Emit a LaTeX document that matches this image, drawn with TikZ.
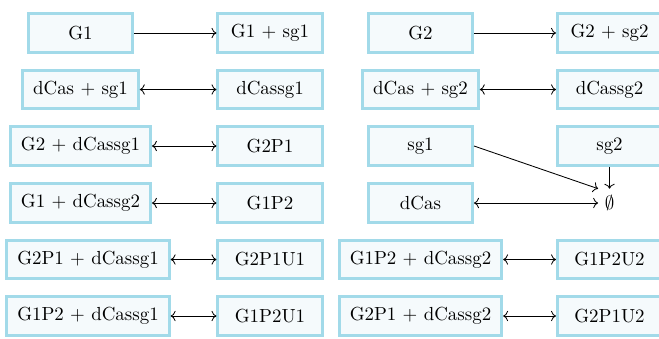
\documentclass[tikz,border=0pt]{standalone}
\usetikzlibrary{arrows.meta}
\definecolor{boxline}{RGB}{162,218,233}
\definecolor{boxfill}{RGB}{245,250,252}
\tikzset{
  species/.style={draw=boxline, fill=boxfill, line width=1.6pt,
    minimum width=55pt, minimum height=20.4pt, inner xsep=5.5pt},
  react/.style={->, line width=0.45pt},
  rev/.style={<->, line width=0.45pt}
}
\begin{document}
\begin{tikzpicture}[x=0.5285pt, y=-0.5285pt]
\useasboundingbox (0,0) rectangle (659,338);
% left block
\node[species] (g1)      at (80.5,33)   {G1};
\node[species] (g1sg1)   at (270,33)    {G1 + sg1};
\node[species] (dcsg1)   at (80.5,89.5) {dCas + sg1};
\node[species] (dcassg1) at (270,89.5)  {dCassg1};
\node[species] (g2dc1)   at (80.5,146)  {G2 + dCassg1};
\node[species] (g2p1)    at (270,146)   {G2P1};
\node[species] (g1dc2)   at (80.5,203)  {G1 + dCassg2};
\node[species] (g1p2)    at (270,203)   {G1P2};
\node[species] (g2p1dc1) at (88,259.5)  {G2P1 + dCassg1};
\node[species] (g2p1u1)  at (270,259.5) {G2P1U1};
\node[species] (g1p2dc1) at (88,316)    {G1P2 + dCassg1};
\node[species] (g1p2u1)  at (270,316)   {G1P2U1};
% right block
\node[species] (g2)      at (420.5,33)   {G2};
\node[species] (g2sg2)   at (609.5,33)   {G2 + sg2};
\node[species] (dcsg2)   at (420.5,89.5) {dCas + sg2};
\node[species] (dcassg2) at (609.5,89.5) {dCassg2};
\node[species] (sg1)     at (420.5,146)  {sg1};
\node[species] (sg2)     at (609.5,146)  {sg2};
\node[species] (dcas)    at (420.5,203)  {dCas};
\node (empty)            at (609.5,203)  {$\emptyset$};
\node[species] (g1p2dc2) at (420.5,259.5) {G1P2 + dCassg2};
\node[species] (g1p2u2)  at (609.5,259.5) {G1P2U2};
\node[species] (g2p1dc2) at (420.5,316)   {G2P1 + dCassg2};
\node[species] (g2p1u2)  at (609.5,316)   {G2P1U2};
% reactions
\draw[react] (g1) -- (g1sg1);
\draw[rev] (dcsg1) -- (dcassg1);
\draw[rev] (g2dc1) -- (g2p1);
\draw[rev] (g1dc2) -- (g1p2);
\draw[rev] (g2p1dc1) -- (g2p1u1);
\draw[rev] (g1p2dc1) -- (g1p2u1);
\draw[react] (g2) -- (g2sg2);
\draw[rev] (dcsg2) -- (dcassg2);
\draw[react] (sg1.east) -- (empty.north west);
\draw[react] (sg2) -- (empty);
\draw[rev] (dcas) -- (empty);
\draw[rev] (g1p2dc2) -- (g1p2u2);
\draw[rev] (g2p1dc2) -- (g2p1u2);
\end{tikzpicture}
\end{document}
